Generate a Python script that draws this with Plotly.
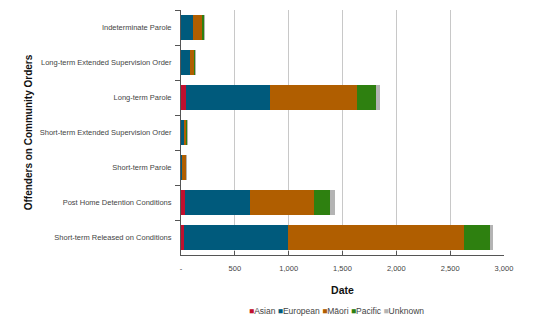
import plotly.graph_objects as go

categories = [
    "Indeterminate Parole",
    "Long-term Extended Supervision Order",
    "Long-term Parole",
    "Short-term Extended Supervision Order",
    "Short-term Parole",
    "Post Home Detention Conditions",
    "Short-term Released on Conditions",
]
series_names = ["Asian", "European", "Māori", "Pacific", "Unknown"]
asian = [3, 2, 44, 1, 1, 40, 25]
european = [111, 78, 778, 24, 12, 597, 967]
maori = [88, 44, 816, 28, 36, 596, 1635]
pacific = [17, 6, 176, 5, 5, 155, 244]
unknown = [3, 1, 37, 1, 1, 46, 28]
colors = ["#C0102E", "#005A7C", "#B05E00", "#2E8010", "#B4B4B4"]
x_tickvals = [0, 500, 1000, 1500, 2000, 2500, 3000]
x_ticktext = ["-", "500", "1,000", "1,500", "2,000", "2,500", "3,000"]

values = [asian, european, maori, pacific, unknown]

fig = go.Figure()
for name, vals, col in zip(series_names, values, colors):
    fig.add_trace(go.Bar(
        y=categories, x=vals, name=name, orientation="h",
        marker=dict(color=col, line=dict(width=0)), showlegend=False,
    ))

legend_html = "".join(
    f'<span style="color:{c}">■</span>{n} ' for n, c in zip(series_names, colors)
)

fig.update_layout(
    barmode="stack",
    bargap=0.31,
    width=538, height=329,
    margin=dict(l=181, r=34, t=10, b=74),
    paper_bgcolor="white", plot_bgcolor="white",
    font=dict(family="Liberation Sans, Arial, sans-serif", color="#444444", size=7),
    xaxis=dict(
        range=[0, 3000], tickvals=x_tickvals, ticktext=x_ticktext,
        showgrid=True, gridcolor="#C8C8C8", gridwidth=1,
        showline=True, linecolor="#555555", linewidth=1,
        ticks="inside", ticklen=4, tickcolor="#555555",
        tickfont=dict(size=7.5, color="#444444"),
        ticklabelstandoff=6,
        zeroline=False,
        title=dict(text="<b>Date</b>", font=dict(size=10.5, color="#111111"), standoff=14),
    ),
    yaxis=dict(
        categoryorder="array", categoryarray=categories, autorange="reversed",
        showline=True, linecolor="#555555", linewidth=1,
        ticks="outside", ticklen=5, tickcolor="#555555", tickson="boundaries",
        tickfont=dict(size=7.5, color="#444444"),
        ticklabelstandoff=7,
        showgrid=False,
        title=dict(text="<b>Offenders on Community Orders</b>",
                   font=dict(size=10, color="#111111"), standoff=5),
    ),
    annotations=[dict(
        text=legend_html, xref="paper", yref="paper", x=0.486, y=-0.229,
        xanchor="center", yanchor="middle", showarrow=False,
        font=dict(size=8.5, color="#444444", family="Liberation Sans, Arial, sans-serif"),
    )],
)

fig.write_html("out.html")
